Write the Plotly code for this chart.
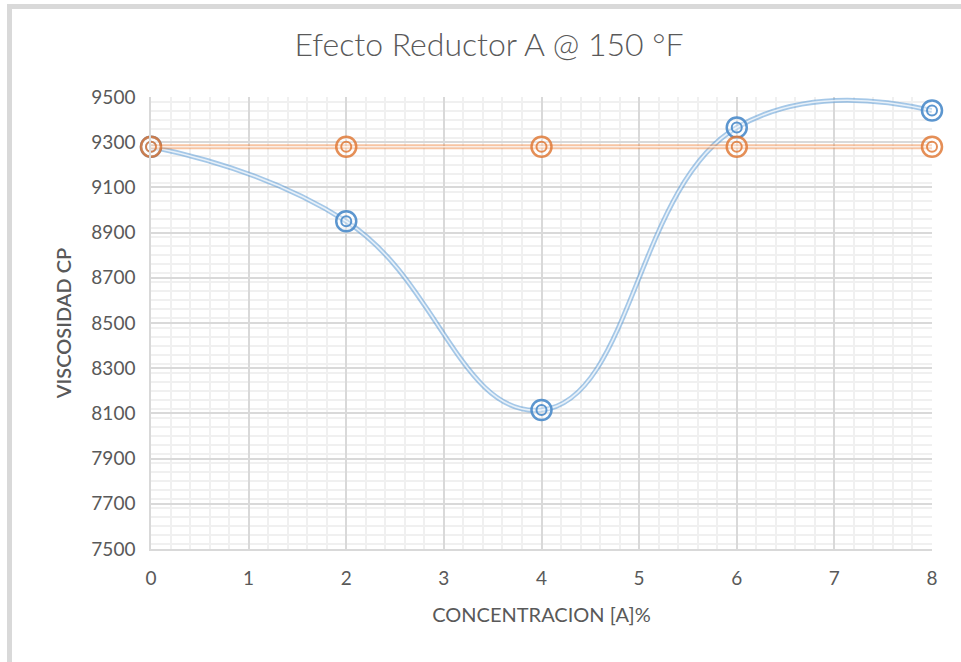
import plotly.graph_objects as go

conc = [0, 2, 4, 6, 8]
visc = [9280, 8950, 8115, 9365, 9440]
ref = [9280, 9280, 9280, 9280, 9280]
title = "Efecto Reductor A @ 150 °F"
xtitle = "CONCENTRACION [A]%"
ytitle = "VISCOSIDAD CP"

BLUE = "rgba(74,139,202,0.9)"
BLUE_L = "rgba(91,155,213,0.55)"
ORANGE = "rgba(222,115,45,0.8)"
ORANGE_L = "rgba(237,125,49,0.45)"

fig = go.Figure()

def add_series(y, line_col, mark_col):
    fig.add_trace(go.Scatter(x=conc, y=y, mode="lines",
                             line=dict(color=line_col, width=5, shape="spline", smoothing=1.3),
                             hoverinfo="skip", showlegend=False))
    fig.add_trace(go.Scatter(x=conc, y=y, mode="lines",
                             line=dict(color="rgba(255,255,255,0.75)", width=1.6, shape="spline", smoothing=1.3),
                             hoverinfo="skip", showlegend=False))
    fig.add_trace(go.Scatter(x=conc, y=y, mode="markers",
                             marker=dict(symbol="circle", size=20, color="rgba(255,255,255,0.35)",
                                         line=dict(color=mark_col, width=2.5)),
                             showlegend=False, cliponaxis=False))
    fig.add_trace(go.Scatter(x=conc, y=y, mode="markers",
                             marker=dict(symbol="circle-open", size=10, color=mark_col,
                                         line=dict(color=mark_col, width=2)),
                             showlegend=False, cliponaxis=False, hoverinfo="skip"))

add_series(visc, BLUE_L, BLUE)
add_series(ref, ORANGE_L, ORANGE)

L, R, T, B = 151, 29, 97, 113
W, H = 961, 662
pw, ph = W - L - R, H - T - B

def px2x(px):
    return (px - L) / pw

def py2y(py):
    return (H - B - py) / ph

fig.add_shape(type="rect", xref="paper", yref="paper",
              x0=px2x(7), x1=px2x(961), y0=py2y(9), y1=py2y(4),
              fillcolor="#d9d9d9", line=dict(width=0), layer="below")
fig.add_shape(type="rect", xref="paper", yref="paper",
              x0=px2x(7), x1=px2x(12), y0=py2y(662), y1=py2y(4),
              fillcolor="#d9d9d9", line=dict(width=0), layer="below")

font_family = "Lato, Calibri, 'Liberation Sans', sans-serif"
fig.update_layout(
    width=W, height=H,
    margin=dict(l=L, r=R, t=T, b=B),
    paper_bgcolor="white", plot_bgcolor="white",
    title=dict(text=title, x=(289 + 689) / 2 / W, xanchor="center",
               y=1 - 45 / H, yanchor="middle",
               font=dict(family=font_family, size=32, color="#595959", weight=300)),
    xaxis=dict(range=[0, 8], dtick=1, tick0=0, showgrid=True, gridcolor="#d9d9d9", gridwidth=1.5,
               zeroline=False, showline=True, linecolor="#d9d9d9", linewidth=1.5,
               ticks="", ticklabelstandoff=11,
               tickfont=dict(family=font_family, size=19, color="#595959"),
               minor=dict(dtick=0.2, showgrid=True, gridcolor="#f0f0f0", gridwidth=2),
               title=dict(text=xtitle, standoff=20,
                          font=dict(family=font_family, size=20, color="#595959"))),
    yaxis=dict(range=[7500, 9500], dtick=200, tick0=7500, showgrid=True, gridcolor="#d9d9d9", gridwidth=1.5,
               zeroline=False, showline=True, linecolor="#d9d9d9", linewidth=1.5,
               ticks="", ticklabelstandoff=10,
               tickfont=dict(family=font_family, size=19, color="#595959"),
               minor=dict(dtick=40, showgrid=True, gridcolor="#f0f0f0", gridwidth=2),
               title=dict(text=ytitle, standoff=14,
                          font=dict(family=font_family, size=20, color="#595959", weight=600))),
)

fig.write_html("out.html")
